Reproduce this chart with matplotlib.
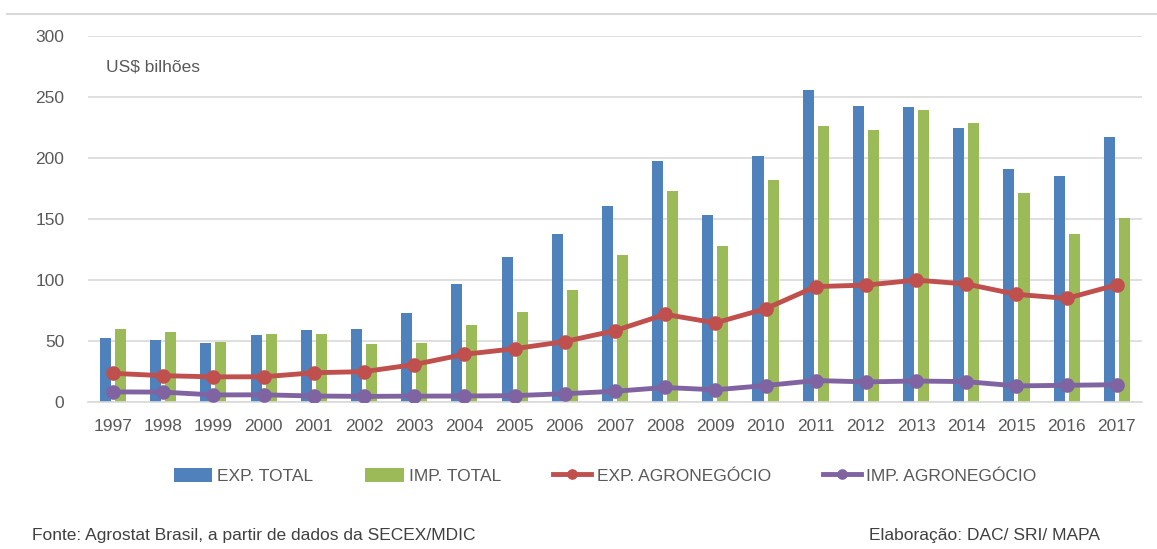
import numpy as np
import matplotlib.pyplot as plt
from matplotlib.lines import Line2D

plt.rcParams['font.family'] = ['Liberation Sans', 'DejaVu Sans']

anos = [str(a) for a in range(1997, 2018)]
exp_total = [52.2, 50.9, 48.4, 55.0, 58.8, 60.1, 73.1, 96.7, 118.5, 137.8, 160.6,
             197.9, 153.0, 201.9, 256.0, 242.6, 242.0, 225.1, 191.1, 185.2, 217.7]
imp_total = [59.7, 57.7, 49.3, 55.9, 55.6, 47.2, 48.3, 62.8, 73.6, 91.4, 120.6,
             173.0, 127.7, 181.8, 226.2, 223.2, 239.7, 229.2, 171.4, 137.6, 150.7]
exp_agro = [23.4, 21.5, 20.5, 20.6, 23.9, 24.8, 30.6, 39.0, 43.6, 49.5, 58.4,
            71.8, 64.8, 76.4, 94.6, 95.8, 99.9, 96.7, 88.2, 84.9, 96.0]
imp_agro = [8.2, 8.0, 5.7, 5.8, 4.8, 4.5, 4.7, 4.8, 5.1, 6.7, 8.7,
            11.8, 9.9, 13.4, 17.5, 16.4, 17.1, 16.6, 13.1, 13.6, 14.1]

azul = '#4F81BD'
verde = '#9BBB59'
vermelho = '#C0504D'
roxo = '#8064A2'
cinza = '#595959'
grade = '#D9D9D9'

fig = plt.figure(figsize=(11.57, 5.49), dpi=100)
ax = fig.add_axes([0.076, 0.268, 0.911, 0.666])

x = np.arange(len(anos))
w = 0.22
b1 = ax.bar(x - 0.15, exp_total, w, color=azul, label='EXP. TOTAL', zorder=2)
b2 = ax.bar(x + 0.15, imp_total, w, color=verde, label='IMP. TOTAL', zorder=2)
l1, = ax.plot(x, exp_agro, color=vermelho, lw=3.5, marker='o', ms=9.5,
              label='EXP. AGRONEGÓCIO', zorder=3)
l2, = ax.plot(x, imp_agro, color=roxo, lw=3.5, marker='o', ms=9.5,
              label='IMP. AGRONEGÓCIO', zorder=3)

ax.set_xlim(-0.5, len(anos) - 0.5)
ax.set_ylim(0, 300)
ax.set_yticks(range(0, 301, 50))
ax.set_xticks(x)
ax.set_xticklabels(anos)
ax.yaxis.grid(True, color=grade, lw=1.2, zorder=0)
ax.set_axisbelow(True)
for s in ['top', 'right', 'left']:
    ax.spines[s].set_visible(False)
ax.spines['bottom'].set_color(grade)
ax.spines['bottom'].set_linewidth(1.2)
ax.tick_params(axis='both', length=0, labelsize=12.5, labelcolor=cinza)
ax.tick_params(axis='y', pad=17)
ax.tick_params(axis='x', pad=12)

ax.text(0.017, 0.915, 'US$ bilhões', transform=ax.transAxes, fontsize=12.5,
        color=cinza, va='center', ha='left')

# linha no topo do quadro
fig.add_artist(Line2D([0.006, 1.0], [0.9745, 0.9745], color=grade, lw=1.5))

fig.legend(handles=[b1, b2, l1, l2], loc='center', bbox_to_anchor=(0.523, 0.133),
           ncol=4, frameon=False, fontsize=12.5, labelcolor=cinza,
           handlelength=2.2, handleheight=0.9, columnspacing=3.0,
           handletextpad=0.3, markerscale=0.7)

fig.text(0.028, 0.025, 'Fonte: Agrostat Brasil, a partir de dados da SECEX/MDIC',
         fontsize=12.5, color='#404040', ha='left', va='center')
fig.text(0.951, 0.025, 'Elaboração: DAC/ SRI/ MAPA',
         fontsize=12.5, color='#404040', ha='right', va='center')

fig.savefig('out.png', dpi=100)
